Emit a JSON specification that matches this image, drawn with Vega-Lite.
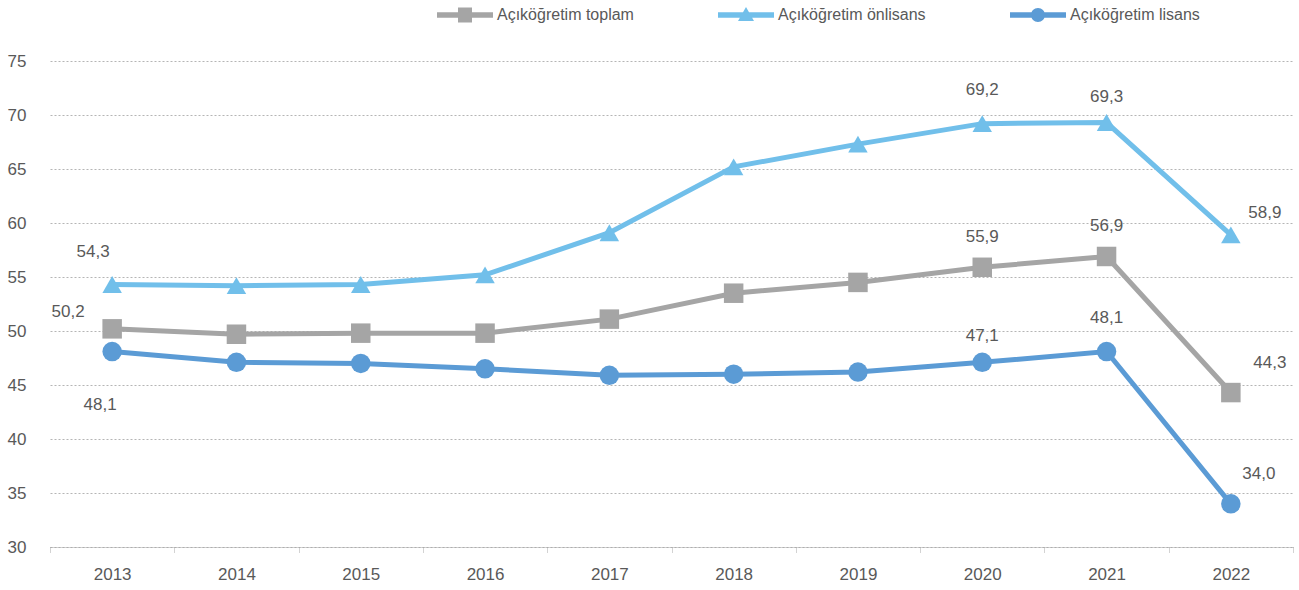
{
  "$schema": "https://vega.github.io/schema/vega-lite/v6.json",
  "width": 1243,
  "height": 486,
  "autosize": {"type": "none"},
  "padding": {"left": 50, "top": 61, "right": 6, "bottom": 43},
  "background": "white",
  "config": {
    "view": {"stroke": null},
    "font": "Liberation Sans, sans-serif",
    "locale": {"number": {"decimal": ",", "thousands": ".", "grouping": [3], "currency": ["", ""]}}
  },
  "data": {
    "values": [
      {"year": "2013", "series": "Açıköğretim toplam", "value": 50.2},
      {"year": "2014", "series": "Açıköğretim toplam", "value": 49.7},
      {"year": "2015", "series": "Açıköğretim toplam", "value": 49.8},
      {"year": "2016", "series": "Açıköğretim toplam", "value": 49.8},
      {"year": "2017", "series": "Açıköğretim toplam", "value": 51.1},
      {"year": "2018", "series": "Açıköğretim toplam", "value": 53.5},
      {"year": "2019", "series": "Açıköğretim toplam", "value": 54.5},
      {"year": "2020", "series": "Açıköğretim toplam", "value": 55.9},
      {"year": "2021", "series": "Açıköğretim toplam", "value": 56.9},
      {"year": "2022", "series": "Açıköğretim toplam", "value": 44.3},
      {"year": "2013", "series": "Açıköğretim önlisans", "value": 54.3},
      {"year": "2014", "series": "Açıköğretim önlisans", "value": 54.2},
      {"year": "2015", "series": "Açıköğretim önlisans", "value": 54.3},
      {"year": "2016", "series": "Açıköğretim önlisans", "value": 55.2},
      {"year": "2017", "series": "Açıköğretim önlisans", "value": 59.1},
      {"year": "2018", "series": "Açıköğretim önlisans", "value": 65.2},
      {"year": "2019", "series": "Açıköğretim önlisans", "value": 67.3},
      {"year": "2020", "series": "Açıköğretim önlisans", "value": 69.2},
      {"year": "2021", "series": "Açıköğretim önlisans", "value": 69.3},
      {"year": "2022", "series": "Açıköğretim önlisans", "value": 58.9},
      {"year": "2013", "series": "Açıköğretim lisans", "value": 48.1},
      {"year": "2014", "series": "Açıköğretim lisans", "value": 47.1},
      {"year": "2015", "series": "Açıköğretim lisans", "value": 47.0},
      {"year": "2016", "series": "Açıköğretim lisans", "value": 46.5},
      {"year": "2017", "series": "Açıköğretim lisans", "value": 45.9},
      {"year": "2018", "series": "Açıköğretim lisans", "value": 46.0},
      {"year": "2019", "series": "Açıköğretim lisans", "value": 46.2},
      {"year": "2020", "series": "Açıköğretim lisans", "value": 47.1},
      {"year": "2021", "series": "Açıköğretim lisans", "value": 48.1},
      {"year": "2022", "series": "Açıköğretim lisans", "value": 34.0}
    ]
  },
  "encoding": {
    "x": {
      "field": "year",
      "type": "ordinal",
      "scale": {"type": "band", "paddingInner": 0, "paddingOuter": 0},
      "axis": {
        "title": null,
        "labelAngle": 0,
        "labelFontSize": 17,
        "labelColor": "#595959",
        "labelPadding": 13,
        "tickBand": "extent",
        "ticks": true,
        "tickSize": 6,
        "tickColor": "#A6A6A6",
        "tickDash": [1, 1],
        "domainColor": "#A6A6A6",
        "domainDash": [1, 1],
        "domainWidth": 1,
        "grid": false
      }
    },
    "y": {
      "field": "value",
      "type": "quantitative",
      "scale": {"domain": [30, 75], "nice": false, "zero": false},
      "axis": {
        "title": null,
        "values": [30, 35, 40, 45, 50, 55, 60, 65, 70, 75],
        "labelFontSize": 17,
        "labelColor": "#595959",
        "labelPadding": 24,
        "ticks": false,
        "domain": false,
        "grid": true,
        "gridColor": "#B5B5B5",
        "gridDash": [2, 2],
        "gridWidth": 1
      }
    }
  },
  "layer": [
    {
      "mark": {"type": "line", "strokeWidth": 5},
      "encoding": {
        "color": {
          "field": "series",
          "type": "nominal",
          "scale": {
            "domain": ["Açıköğretim toplam", "Açıköğretim önlisans", "Açıköğretim lisans"],
            "range": ["#A5A5A5", "#71BFEA", "#5B9BD5"]
          },
          "legend": {
            "title": null,
            "orient": "none",
            "direction": "horizontal",
            "columns": 3,
            "legendX": 405,
            "legendY": -56,
            "padding": 0,
            "symbolSize": 400,
            "labelOffset": 22,
            "columnPadding": 84,
            "labelFontSize": 16,
            "labelColor": "#595959",
            "encode": {
              "symbols": {
                "update": {
                  "shape": {"signal": "datum.value === 'Açıköğretim toplam' ? 'M-2.8,-0.27H2.8V0.27H-2.8Z M-0.7,-0.75H0.7V0.75H-0.7Z' : datum.value === 'Açıköğretim önlisans' ? 'M-2.8,-0.27H2.8V0.27H-2.8Z M0,-0.8L0.8,0.6L-0.8,0.6Z' : 'M-2.8,-0.27H2.8V0.27H-2.8Z M-0.7,0A0.7,0.7 0 1,1 0.7,0A0.7,0.7 0 1,1 -0.7,0Z'"},
                  "fill": {"scale": "color", "field": "value"},
                  "strokeWidth": {"value": 0},
                  "opacity": {"value": 1}
                }
              }
            }
          }
        }
      }
    },
    {
      "mark": {"type": "point", "filled": true, "size": 380, "opacity": 1},
      "encoding": {
        "color": {"field": "series", "type": "nominal", "legend": null},
        "shape": {
          "field": "series",
          "type": "nominal",
          "scale": {
            "domain": ["Açıköğretim lisans", "Açıköğretim toplam", "Açıköğretim önlisans"],
            "range": ["circle", "square", "triangle-up"]
          },
          "legend": null
        }
      }
    },
    {
      "transform": [{"filter": "datum.year == '2013' && datum.series == 'Açıköğretim toplam'"}],
      "mark": {"type": "text", "dx": -44, "dy": -17, "fontSize": 17, "color": "#595959", "baseline": "middle"},
      "encoding": {"text": {"field": "value", "type": "quantitative", "format": ".1f"}}
    },
    {
      "transform": [{"filter": "datum.year == '2013' && datum.series == 'Açıköğretim önlisans'"}],
      "mark": {"type": "text", "dx": -19, "dy": -33, "fontSize": 17, "color": "#595959", "baseline": "middle"},
      "encoding": {"text": {"field": "value", "type": "quantitative", "format": ".1f"}}
    },
    {
      "transform": [{"filter": "datum.year == '2013' && datum.series == 'Açıköğretim lisans'"}],
      "mark": {"type": "text", "dx": -12, "dy": 53, "fontSize": 17, "color": "#595959", "baseline": "middle"},
      "encoding": {"text": {"field": "value", "type": "quantitative", "format": ".1f"}}
    },
    {
      "transform": [{"filter": "(datum.year == '2020' && datum.series == 'Açıköğretim önlisans') || (datum.year == '2021' && datum.series == 'Açıköğretim lisans')"}],
      "mark": {"type": "text", "dy": -34, "fontSize": 17, "color": "#595959", "baseline": "middle"},
      "encoding": {"text": {"field": "value", "type": "quantitative", "format": ".1f"}}
    },
    {
      "transform": [{"filter": "(datum.year == '2020' && datum.series == 'Açıköğretim lisans') || (datum.year == '2021' && datum.series == 'Açıköğretim önlisans')"}],
      "mark": {"type": "text", "dy": -26, "fontSize": 17, "color": "#595959", "baseline": "middle"},
      "encoding": {"text": {"field": "value", "type": "quantitative", "format": ".1f"}}
    },
    {
      "transform": [{"filter": "(datum.year == '2020' || datum.year == '2021') && datum.series == 'Açıköğretim toplam'"}],
      "mark": {"type": "text", "dy": -30, "fontSize": 17, "color": "#595959", "baseline": "middle"},
      "encoding": {"text": {"field": "value", "type": "quantitative", "format": ".1f"}}
    },
    {
      "transform": [{"filter": "datum.year == '2022' && datum.series == 'Açıköğretim toplam'"}],
      "mark": {"type": "text", "dx": 39, "dy": -30, "fontSize": 17, "color": "#595959", "baseline": "middle"},
      "encoding": {"text": {"field": "value", "type": "quantitative", "format": ".1f"}}
    },
    {
      "transform": [{"filter": "datum.year == '2022' && datum.series == 'Açıköğretim önlisans'"}],
      "mark": {"type": "text", "dx": 34, "dy": -22, "fontSize": 17, "color": "#595959", "baseline": "middle"},
      "encoding": {"text": {"field": "value", "type": "quantitative", "format": ".1f"}}
    },
    {
      "transform": [{"filter": "datum.year == '2022' && datum.series == 'Açıköğretim lisans'"}],
      "mark": {"type": "text", "dx": 28, "dy": -30, "fontSize": 17, "color": "#595959", "baseline": "middle"},
      "encoding": {"text": {"field": "value", "type": "quantitative", "format": ".1f"}}
    }
  ]
}
